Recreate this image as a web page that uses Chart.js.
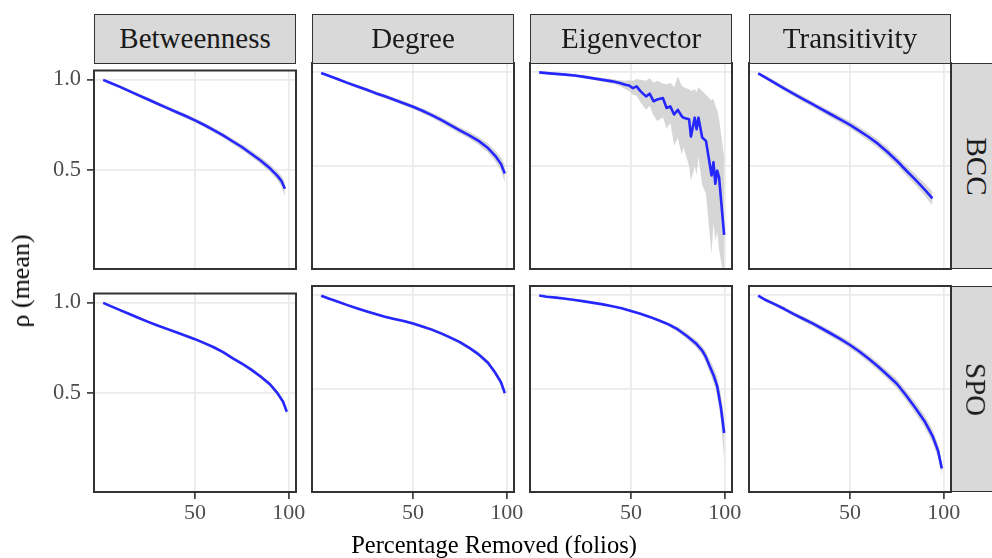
<!DOCTYPE html>
<html><head><meta charset="utf-8">
<script src="https://cdn.jsdelivr.net/npm/chart.js@4.4.1/dist/chart.umd.min.js"></script>
<style>
html,body{margin:0;padding:0;background:#fff;}
#wrap{position:relative;width:992px;height:558px;overflow:hidden;font-family:"Liberation Serif","Times New Roman",serif;background:#fff;}
canvas{position:absolute;}
.strip{position:absolute;background:#D9D9D9;border:1.8px solid #333;box-sizing:border-box;color:#1A1A1A;font-size:29px;display:flex;align-items:center;justify-content:center;white-space:nowrap;}
.vtext{transform:rotate(90deg);white-space:nowrap;}
.title{position:absolute;color:#000;font-size:24.5px;line-height:24px;white-space:nowrap;}
</style></head><body><div id="wrap"></div>
<script>
// ---------------- facets & ticks ----------------
const metrics = ["Betweenness", "Degree", "Eigenvector", "Transitivity"];
const methods = ["BCC", "SPO"];
const xTicks = [50, 100];
const yTicks = [0.5, 1.0];
const xTitle = "Percentage Removed (folios)";
const yTitle = "ρ (mean)";

// ---------------- shared x grids ----------------
const x99 = [1,5,10,15,20,25,30,35,40,45,50,55,60,65,70,75,80,85,90,94,97,99];
const x98 = [1,5,10,15,20,25,30,35,40,45,50,55,60,65,70,75,80,85,90,94,96,98];
const x94 = [1,5,10,15,20,25,30,35,40,45,50,55,60,65,70,75,80,85,90,94];
const xEigSPO = [1,5,10,15,20,25,30,35,40,45,50,55,60,65,70,75,80,85,88,90,92,94,96,98,99.7];
const xEigBCC = [1,5,10,15,20,25,30,35,40,44,47,49,51,53,55,58,60,62,64,67,69,71,73,75,77,78,81,82,84,85,86,88,90,93,94,95,96,97,99.7];

// ---------------- BCC row ----------------
const betBCC_mean = [0.998,0.981,0.959,0.936,0.912,0.889,0.866,0.843,0.820,0.798,0.774,0.748,0.720,0.691,0.658,0.626,0.589,0.551,0.508,0.466,0.440,0.395];
const betBCC_lo   = [0.994,0.974,0.950,0.927,0.902,0.879,0.856,0.832,0.809,0.786,0.762,0.736,0.707,0.677,0.643,0.610,0.572,0.532,0.487,0.440,0.410,0.355];
const betBCC_hi   = [1.002,0.988,0.968,0.945,0.922,0.900,0.877,0.854,0.831,0.810,0.787,0.761,0.733,0.705,0.673,0.642,0.606,0.570,0.530,0.490,0.468,0.430];

const degBCC_mean = [0.997,0.982,0.963,0.944,0.926,0.908,0.889,0.872,0.854,0.835,0.816,0.795,0.772,0.746,0.718,0.690,0.664,0.634,0.596,0.553,0.510,0.460];
const degBCC_lo   = [0.993,0.975,0.955,0.935,0.917,0.898,0.879,0.861,0.843,0.823,0.804,0.782,0.758,0.731,0.702,0.673,0.645,0.613,0.572,0.524,0.475,0.410];
const degBCC_hi   = [1.001,0.989,0.971,0.953,0.935,0.918,0.899,0.883,0.865,0.847,0.828,0.808,0.786,0.761,0.734,0.707,0.683,0.655,0.620,0.582,0.545,0.505];

const eigBCC_mean = [1.000,0.996,0.992,0.988,0.983,0.976,0.968,0.960,0.952,0.943,0.934,0.930,0.916,0.925,0.900,0.872,0.886,0.846,0.855,0.863,0.810,0.818,0.775,0.800,0.767,0.758,0.749,0.657,0.758,0.696,0.758,0.652,0.634,0.449,0.520,0.405,0.475,0.440,0.132];
const eigBCC_lo   = [0.995,0.990,0.985,0.980,0.975,0.968,0.960,0.950,0.940,0.928,0.910,0.900,0.880,0.875,0.840,0.800,0.820,0.770,0.740,0.760,0.700,0.730,0.610,0.650,0.560,0.600,0.500,0.420,0.500,0.450,0.550,0.400,0.350,0.030,0.200,0.100,0.150,0.050,-0.100];
const eigBCC_hi   = [1.003,0.998,0.997,0.993,0.990,0.985,0.977,0.970,0.964,0.958,0.955,0.958,0.955,0.965,0.960,0.955,0.970,0.945,0.955,0.940,0.935,0.945,0.920,0.978,0.930,0.920,0.910,0.900,0.910,0.895,0.920,0.900,0.880,0.850,0.860,0.820,0.800,0.750,0.550];

const traBCC_mean = [0.995,0.972,0.943,0.913,0.885,0.857,0.830,0.802,0.775,0.748,0.720,0.688,0.655,0.618,0.575,0.528,0.476,0.426,0.373,0.327];
const traBCC_lo   = [0.990,0.962,0.931,0.900,0.871,0.842,0.815,0.786,0.758,0.730,0.701,0.668,0.634,0.596,0.551,0.503,0.449,0.397,0.340,0.290];
const traBCC_hi   = [1.000,0.982,0.955,0.926,0.899,0.872,0.845,0.818,0.792,0.766,0.739,0.708,0.676,0.640,0.599,0.553,0.503,0.455,0.406,0.364];

// ---------------- SPO row ----------------
const betSPO_mean = [0.998,0.980,0.958,0.936,0.914,0.893,0.873,0.854,0.835,0.816,0.797,0.775,0.752,0.725,0.692,0.662,0.628,0.590,0.547,0.498,0.450,0.395];
const betSPO_lo   = [0.995,0.975,0.952,0.930,0.907,0.886,0.866,0.847,0.828,0.808,0.789,0.767,0.743,0.716,0.683,0.652,0.617,0.579,0.535,0.485,0.436,0.380];
const betSPO_hi   = [1.001,0.985,0.964,0.942,0.921,0.900,0.880,0.861,0.842,0.824,0.805,0.783,0.761,0.734,0.701,0.672,0.639,0.601,0.559,0.511,0.464,0.410];

const degSPO_mean = [0.998,0.983,0.966,0.948,0.931,0.915,0.900,0.886,0.874,0.863,0.850,0.834,0.817,0.797,0.774,0.750,0.720,0.685,0.640,0.585,0.535,0.478];
const degSPO_lo   = [0.995,0.978,0.960,0.942,0.925,0.908,0.893,0.879,0.867,0.855,0.842,0.826,0.808,0.788,0.765,0.740,0.709,0.673,0.627,0.570,0.518,0.455];
const degSPO_hi   = [1.001,0.988,0.972,0.954,0.937,0.922,0.907,0.893,0.881,0.871,0.858,0.842,0.826,0.806,0.783,0.760,0.731,0.697,0.653,0.600,0.552,0.500];

const eigSPO_mean = [0.999,0.993,0.988,0.982,0.975,0.968,0.960,0.952,0.942,0.931,0.917,0.902,0.885,0.866,0.845,0.818,0.782,0.740,0.705,0.670,0.622,0.575,0.515,0.400,0.265];
const eigSPO_lo   = [0.997,0.990,0.985,0.979,0.972,0.965,0.956,0.948,0.938,0.926,0.912,0.896,0.878,0.858,0.835,0.805,0.766,0.720,0.680,0.640,0.588,0.535,0.465,0.330,0.120];
const eigSPO_hi   = [1.001,0.996,0.991,0.985,0.978,0.971,0.964,0.956,0.946,0.936,0.922,0.908,0.892,0.874,0.855,0.831,0.798,0.760,0.730,0.700,0.656,0.615,0.565,0.470,0.340];

const traSPO_mean = [0.998,0.975,0.952,0.927,0.900,0.875,0.850,0.823,0.795,0.766,0.735,0.700,0.662,0.620,0.575,0.528,0.465,0.397,0.325,0.250,0.170,0.075];
const traSPO_lo   = [0.993,0.966,0.942,0.916,0.888,0.862,0.836,0.808,0.779,0.749,0.717,0.681,0.642,0.599,0.552,0.503,0.438,0.368,0.293,0.215,0.132,0.040];
const traSPO_hi   = [1.003,0.984,0.962,0.938,0.912,0.888,0.864,0.838,0.811,0.783,0.753,0.719,0.682,0.641,0.598,0.553,0.492,0.426,0.357,0.285,0.208,0.110];

const panels = {
  BCC: [
    [x98, betBCC_mean, betBCC_lo, betBCC_hi],
    [x99, degBCC_mean, degBCC_lo, degBCC_hi],
    [xEigBCC, eigBCC_mean, eigBCC_lo, eigBCC_hi],
    [x94, traBCC_mean, traBCC_lo, traBCC_hi]
  ],
  SPO: [
    [x99, betSPO_mean, betSPO_lo, betSPO_hi],
    [x99, degSPO_mean, degSPO_lo, degSPO_hi],
    [xEigSPO, eigSPO_mean, eigSPO_lo, eigSPO_hi],
    [x99, traSPO_mean, traSPO_lo, traSPO_hi]
  ]
};

// ---------------- layout ----------------
const colLeft = [94, 312, 530, 749];
const panelW = 202;
const rowTop = [63, 286];
const panelH = 206;
const AXW = 94, PADT = 12, PADR = 26, XH = 62;
const FONT = "Liberation Serif";

const wrap = document.getElementById('wrap');

const borderPlugin = {
  id: 'panelBorder',
  afterDraw(chart) {
    const { ctx, chartArea: a } = chart;
    ctx.save();
    ctx.strokeStyle = '#333333';
    ctx.lineWidth = 2;
    ctx.strokeRect(a.left, a.top, a.right - a.left, a.bottom - a.top);
    ctx.restore();
  }
};

function pts(xs, ys) { return xs.map((x, i) => ({ x: x, y: ys[i] })); }

methods.forEach((m, r) => {
  metrics.forEach((met, c) => {
    const [xs, mean, lo, hi] = panels[m][c];
    const isLeft = c === 0, isBottom = r === methods.length - 1;
    const cv = document.createElement('canvas');
    const W = AXW + panelW + PADR, H = PADT + panelH + XH;
    cv.width = W; cv.height = H;
    cv.style.left = (colLeft[c] - AXW) + 'px';
    cv.style.top = (rowTop[r] - PADT) + 'px';
    wrap.appendChild(cv);
    new Chart(cv, {
      type: 'line',
      data: {
        datasets: [
          { data: pts(xs, mean), order: 0, borderWidth: 2.6, pointRadius: 0, fill: false, borderColor: '#2626FF', borderJoinStyle: 'round' },
          { data: pts(xs, lo), order: 1, borderWidth: 0, pointRadius: 0, fill: false, borderColor: 'rgba(0,0,0,0)' },
          { data: pts(xs, hi), order: 1, borderWidth: 0, pointRadius: 0, fill: 1, backgroundColor: '#D6D6D6', borderColor: 'rgba(0,0,0,0)' }
        ]
      },
      options: {
        responsive: false, animation: false, devicePixelRatio: 1,
        layout: { padding: { left: 0, top: PADT, right: PADR, bottom: 0 } },
        plugins: { legend: { display: false }, tooltip: { enabled: false }, title: { display: false } },
        elements: { line: { tension: 0 } },
        scales: {
          x: {
            type: 'linear', min: -3.9, max: 103.9,
            afterBuildTicks: s => { s.ticks = xTicks.map(v => ({ value: v })); },
            afterFit: s => { s.height = XH; },
            grid: { color: '#EBEBEB', lineWidth: 1.8, drawTicks: isBottom, tickLength: 7, tickColor: '#333333', tickWidth: 1.6 },
            border: { display: false },
            ticks: { display: isBottom, autoSkip: false, maxRotation: 0, color: '#4D4D4D', padding: 1,
                     font: { family: FONT, size: 22 }, callback: v => String(v) }
          },
          y: {
            type: 'linear', min: -0.05, max: 1.05,
            afterBuildTicks: s => { s.ticks = yTicks.map(v => ({ value: v })); },
            afterFit: s => { s.width = AXW; },
            grid: { color: '#EBEBEB', lineWidth: 1.8, drawTicks: isLeft, tickLength: 7, tickColor: '#333333', tickWidth: 1.6 },
            border: { display: false },
            ticks: { display: isLeft, autoSkip: false, color: '#4D4D4D', padding: 6,
                     font: { family: FONT, size: 22.5 }, callback: v => Number(v).toFixed(1) }
          }
        }
      },
      plugins: [borderPlugin]
    });
  });
});

// strips (top)
metrics.forEach((met, c) => {
  const d = document.createElement('div');
  d.className = 'strip';
  d.style.left = colLeft[c] + 'px';
  d.style.top = '13.5px';
  d.style.width = panelW + 'px';
  d.style.height = '50px';
  d.textContent = met;
  wrap.appendChild(d);
});
// strips (right)
methods.forEach((m, r) => {
  const d = document.createElement('div');
  d.className = 'strip';
  d.style.left = (colLeft[3] + panelW) + 'px';
  d.style.top = rowTop[r] + 'px';
  d.style.width = '50px';
  d.style.height = panelH + 'px';
  const s = document.createElement('span');
  s.className = 'vtext';
  s.textContent = m;
  d.appendChild(s);
  wrap.appendChild(d);
});
// axis titles
const xt = document.createElement('div');
xt.className = 'title';
xt.textContent = xTitle;
xt.style.left = '494px'; xt.style.top = '533px';
xt.style.transform = 'translateX(-50%)';
wrap.appendChild(xt);
const yt = document.createElement('div');
yt.className = 'title';
yt.textContent = yTitle;
yt.style.left = '21px'; yt.style.top = '281px';
yt.style.fontSize = '26px';
yt.style.transform = 'translate(-50%,-50%) rotate(-90deg)';
wrap.appendChild(yt);
</script>
</body></html>
